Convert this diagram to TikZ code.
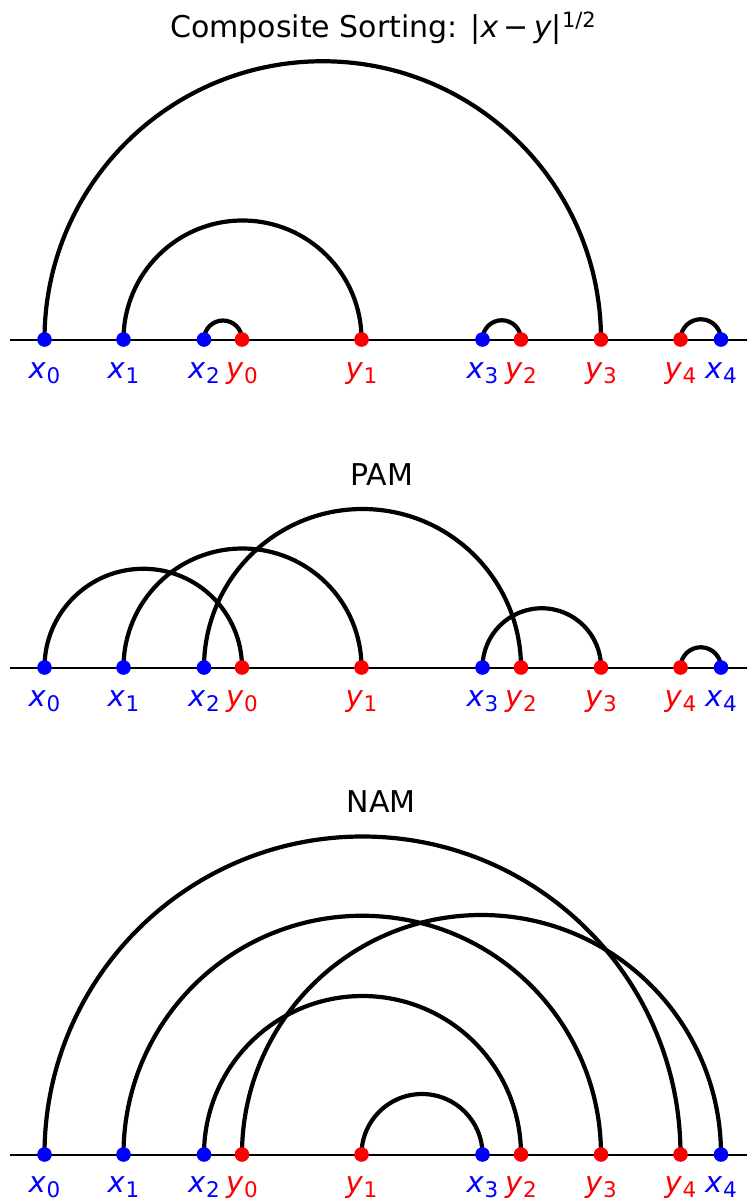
\documentclass[tikz,border=0pt]{standalone}
\usepackage{fontspec}
\setmainfont{DejaVu Sans}
\usetikzlibrary{calc}
\newcommand\lbl[2]{\textit{#1}\kern0.5pt\raisebox{-5pt}{\fontsize{21.5}{22}\selectfont #2}}
\tikzset{
  axisline/.style={line width=2pt, black},
  arcline/.style={line width=4.2pt, black},
  bdot/.style={circle, fill=blue, inner sep=0pt, minimum size=14.6pt},
  rdot/.style={circle, fill=red, inner sep=0pt, minimum size=14.6pt},
  lab/.style={anchor=base, inner sep=0pt, font=\fontsize{29}{30}\selectfont},
  ttl/.style={anchor=base, inner sep=0pt, font=\fontsize{30}{32}\selectfont}
}
\begin{document}
\begin{tikzpicture}[x=1pt,y=1pt]
\path[use as bounding box, fill=white] (0,0) rectangle (747,-1200);

% titles
\node[ttl] (t1) at (383,-37) {Composite Sorting: |\textit{x}\hspace{5pt}\char"2212\hspace{5pt}\textit{y}|\raisebox{10pt}{\fontsize{21}{22}\selectfont 1/2}};
\node[ttl] (t2) at (382,-485) {PAM};
\node[ttl] (t3) at (381,-812) {NAM};

% panels
\foreach \p/\ly in {1/-339.5, 2/-667.5, 3/-1154.5} {
  \coordinate (p\p L) at (9.5,\ly);
  \coordinate (p\p R) at (747,\ly);
  \draw[axisline] (p\p L) -- (p\p R);
  \foreach \n/\px in {x0/44.5, x1/123.5, x2/204, y0/242, y1/361.5, x3/482.5, y2/521, y3/601, y4/680.5, x4/721}
    \coordinate (p\p\n) at (\px,\ly);
}

% arcs
\foreach \a/\b in {x0/y3, x1/y1, x2/y0, x3/y2, y4/x4}
  \draw[arcline] let \p1=(p1\a), \p2=(p1\b), \n1={(\x2-\x1)/2} in (p1\a) arc[start angle=180, end angle=0, radius=\n1];
\foreach \a/\b in {x0/y0, x1/y1, x2/y2, x3/y3, y4/x4}
  \draw[arcline] let \p1=(p2\a), \p2=(p2\b), \n1={(\x2-\x1)/2} in (p2\a) arc[start angle=180, end angle=0, radius=\n1];
\foreach \a/\b in {x0/y4, x1/y3, y0/x4, x2/y2, y1/x3}
  \draw[arcline] let \p1=(p3\a), \p2=(p3\b), \n1={(\x2-\x1)/2} in (p3\a) arc[start angle=180, end angle=0, radius=\n1];

% dots and labels
\foreach \p/\tly in {1/-378, 2/-706, 3/-1192.5} {
  \foreach \n/\px/\s in {x0/44.5/0, x1/123.5/1, x2/204/2, x3/482.5/3, x4/721/4} {
    \node[bdot] (d\p\n) at (p\p\n) {};
    \node[lab, text=blue] (l\p\n) at (\px,\tly) {\lbl{x}{\s}};
  }
  \foreach \n/\px/\s in {y0/242/0, y1/361.5/1, y2/521/2, y3/601/3, y4/680.5/4} {
    \node[rdot] (d\p\n) at (p\p\n) {};
    \node[lab, text=red] (l\p\n) at (\px,\tly) {\lbl{y}{\s}};
  }
}
\end{tikzpicture}
\end{document}
